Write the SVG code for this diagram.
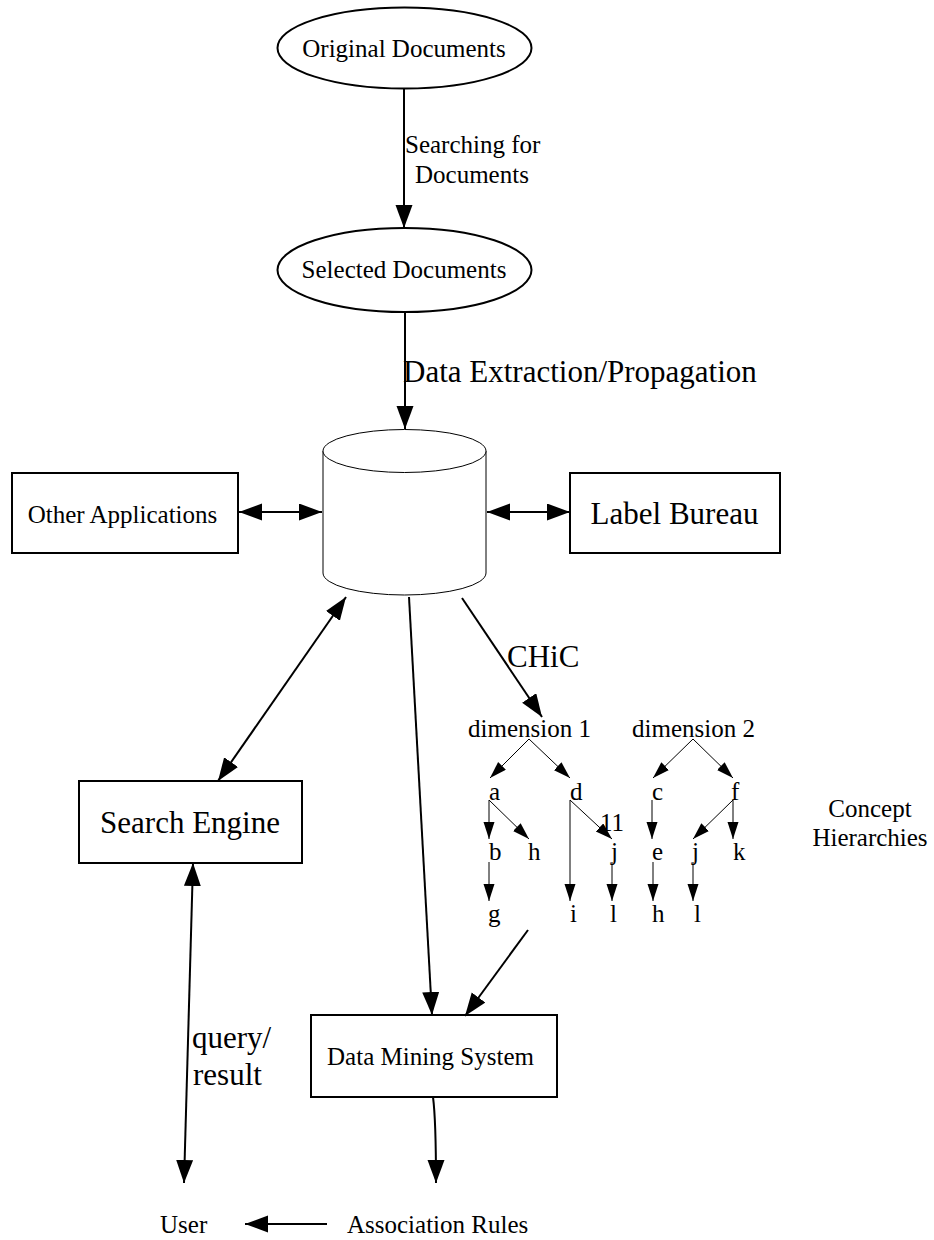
<svg xmlns="http://www.w3.org/2000/svg" width="934" height="1240" viewBox="0 0 934 1240">
<style>
  text { font-family: "Liberation Serif", "Times New Roman", serif; fill: #000; }
  .s { font-size: 25px; }
  .b { font-size: 31px; }
  .node { fill: #fff; stroke: #000; stroke-width: 2; }
  .cyl { fill: #fff; stroke: #000; stroke-width: 1; }
  .edge { fill: none; stroke: #000; stroke-width: 2; }
  .tedge { fill: none; stroke: #000; stroke-width: 1; }
</style>
<defs>
  <marker id="ah" markerUnits="userSpaceOnUse" markerWidth="24" markerHeight="18" refX="23" refY="8.5" orient="auto-start-reverse">
    <path d="M0,0 L23,8.5 L0,17 z" fill="#000"/>
  </marker>
  <marker id="th" markerUnits="userSpaceOnUse" markerWidth="18" markerHeight="12" refX="17" refY="5.5" orient="auto">
    <path d="M0,0 L17,5.5 L0,11 z" fill="#000"/>
  </marker>
</defs>

<g id="original-documents">
  <ellipse class="node" cx="404.5" cy="48" rx="127" ry="40.5"/>
  <text class="s" x="404" y="57" text-anchor="middle">Original Documents</text>
</g>
<g id="selected-documents">
  <ellipse class="node" cx="404.5" cy="270" rx="127" ry="42"/>
  <text class="s" x="404" y="278" text-anchor="middle">Selected Documents</text>
</g>
<g id="database">
  <path class="cyl" d="M323,451 L323,573 A81.5,22 0 0 0 486,573 L486,451"/>
  <ellipse class="cyl" cx="404.5" cy="451" rx="81.5" ry="21.5"/>
</g>
<g id="other-applications">
  <rect class="node" x="12" y="473" width="226" height="80"/>
  <text class="s" x="122.5" y="523" text-anchor="middle">Other Applications</text>
</g>
<g id="label-bureau">
  <rect class="node" x="570" y="473" width="210" height="80"/>
  <text class="b" x="674.5" y="524" text-anchor="middle">Label Bureau</text>
</g>
<g id="search-engine">
  <rect class="node" x="79" y="781" width="223" height="82"/>
  <text class="b" x="190" y="833" text-anchor="middle">Search Engine</text>
</g>
<g id="data-mining-system">
  <rect class="node" x="311" y="1015" width="246" height="82"/>
  <text class="s" x="430.5" y="1065" text-anchor="middle">Data Mining System</text>
</g>
<g id="user">
  <text class="s" x="160" y="1233">User</text>
</g>
<g id="association-rules">
  <text class="s" x="347" y="1233">Association Rules</text>
</g>
<g id="concept-hierarchies">
  <text class="s" x="468" y="737">dimension 1</text>
  <text class="s" x="632" y="737">dimension 2</text>
  <text class="s" x="489" y="800">a</text>
  <text class="s" x="570" y="800">d</text>
  <text class="s" x="652" y="800">c</text>
  <text class="s" x="731" y="800">f</text>
  <text class="s" x="600" y="831">11</text>
  <text class="s" x="489" y="860">b</text>
  <text class="s" x="528" y="860">h</text>
  <text class="s" x="611" y="860">j</text>
  <text class="s" x="652" y="860">e</text>
  <text class="s" x="692" y="860">j</text>
  <text class="s" x="733" y="860">k</text>
  <text class="s" x="488" y="922">g</text>
  <text class="s" x="570" y="922">i</text>
  <text class="s" x="610" y="922">l</text>
  <text class="s" x="652" y="922">h</text>
  <text class="s" x="694" y="922">l</text>
  <text class="s" x="870" y="817" text-anchor="middle">Concept</text>
  <text class="s" x="870" y="846" text-anchor="middle">Hierarchies</text>
  <g id="tree-edges">
    <path class="tedge" marker-end="url(#th)" d="M529,739 L490,778"/>
    <path class="tedge" marker-end="url(#th)" d="M529,739 L570,778"/>
    <path class="tedge" marker-end="url(#th)" d="M693,739 L653,778"/>
    <path class="tedge" marker-end="url(#th)" d="M693,739 L733,778"/>
    <path class="tedge" marker-end="url(#th)" d="M489,800 L489,839"/>
    <path class="tedge" marker-end="url(#th)" d="M489,800 L529,839"/>
    <path class="tedge" marker-end="url(#th)" d="M570,800 L570,901"/>
    <path class="tedge" marker-end="url(#th)" d="M570,800 L612,839"/>
    <path class="tedge" marker-end="url(#th)" d="M652,800 L652,839"/>
    <path class="tedge" marker-end="url(#th)" d="M733,800 L693,839"/>
    <path class="tedge" marker-end="url(#th)" d="M733,800 L733,839"/>
    <path class="tedge" marker-end="url(#th)" d="M489,862 L489,901"/>
    <path class="tedge" marker-end="url(#th)" d="M612,862 L612,901"/>
    <path class="tedge" marker-end="url(#th)" d="M653,862 L653,901"/>
    <path class="tedge" marker-end="url(#th)" d="M693,862 L693,901"/>
  </g>
</g>

<g id="connectors">
  <path class="edge" marker-end="url(#ah)" d="M404,89 L404,228"/>
  <text class="s" x="405" y="153">Searching for</text>
  <text class="s" x="415" y="183">Documents</text>

  <path class="edge" marker-end="url(#ah)" d="M405,312 L405,429"/>
  <text class="b" x="403" y="382">Data Extraction/Propagation</text>

  <path class="edge" marker-start="url(#ah)" marker-end="url(#ah)" d="M239,512 L322,512"/>
  <path class="edge" marker-start="url(#ah)" marker-end="url(#ah)" d="M487,512 L570,512"/>

  <path class="edge" marker-start="url(#ah)" marker-end="url(#ah)" d="M346,597 L218,781"/>
  <path class="edge" marker-end="url(#ah)" d="M409,597 L432,1015"/>

  <path class="edge" marker-end="url(#ah)" d="M462,598 L542,717"/>
  <text class="b" x="507" y="667">CHiC</text>

  <path class="edge" marker-end="url(#ah)" d="M528,930 L465,1016"/>
  <path class="edge" marker-end="url(#ah)" d="M433,1097 Q436,1120 436,1183"/>

  <path class="edge" marker-start="url(#ah)" marker-end="url(#ah)" d="M193,863 L184,1183"/>
  <text class="b" x="192" y="1048">query/</text>
  <text class="b" x="193" y="1085">result</text>

  <path class="edge" marker-end="url(#ah)" d="M327,1224 L245,1224"/>
</g>
</svg>
